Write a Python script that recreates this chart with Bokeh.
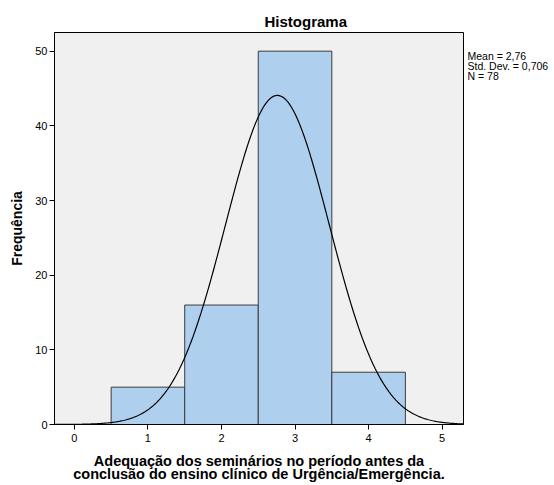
import numpy as np
from bokeh.plotting import figure
from bokeh.models import Range1d, FixedTicker, ColumnDataSource
from bokeh.layouts import row
from bokeh.core.properties import value
from bokeh.embed import file_html
from bokeh.resources import INLINE

# Data
bin_centers = [1, 2, 3, 4]
counts = [5, 16, 50, 7]
mean_val = 2.76
std_val = 0.706
n_val = 78
x_ticks = [0, 1, 2, 3, 4, 5]
y_ticks = [0, 10, 20, 30, 40, 50]
title_text = "Histograma"
x_label_text = ("Adequação dos seminários no período antes da\n"
                "conclusão do ensino clínico de Urgência/Emergência.")
y_label_text = "Frequência"
stats_lines = ["Mean = 2,76", "Std. Dev. = 0,706", "N = 78"]

FONT = "Liberation Sans"
H = 485
TOP = 32
BOTTOM = 60

p = figure(width=464, height=H, output_backend="svg", toolbar_location=None,
           x_range=Range1d(-0.27, 5.29), y_range=Range1d(0, 52.5),
           min_border_left=54, min_border_right=1, min_border_top=TOP, min_border_bottom=BOTTOM)
p.background_fill_color = "#F0F0F0"
p.border_fill_color = "white"
p.outline_line_color = "black"
p.outline_line_width = 1
p.xgrid.visible = False
p.ygrid.visible = False

src = ColumnDataSource(dict(left=[c - 0.5 for c in bin_centers],
                            right=[c + 0.5 for c in bin_centers],
                            top=counts, bottom=[0] * len(counts)))
p.quad(left="left", right="right", top="top", bottom="bottom", source=src,
       fill_color="#AECFEE", line_color="#3c3c3c", line_width=1)

xs = np.linspace(-0.27, 5.29, 400)
ys = n_val * 1.0 / (std_val * np.sqrt(2 * np.pi)) * np.exp(-0.5 * ((xs - mean_val) / std_val) ** 2)
p.line(xs, ys, line_color="black", line_width=1.2)

for ax in (p.xaxis[0], p.yaxis[0]):
    ax.major_tick_in = 0
    ax.major_tick_out = 5
    ax.minor_tick_in = 0
    ax.minor_tick_out = 0
    ax.axis_line_color = "black"
    ax.major_tick_line_color = "black"
    ax.major_label_text_font = FONT
    ax.major_label_text_font_size = "11px"
    ax.major_label_text_color = "black"
    ax.axis_label_text_font = FONT
    ax.axis_label_text_font_style = "bold"
    ax.axis_label_text_color = "black"
p.xaxis.ticker = FixedTicker(ticks=x_ticks)
p.yaxis.ticker = FixedTicker(ticks=y_ticks)
p.xaxis.major_label_standoff = 4
p.yaxis.major_label_standoff = 2
p.xaxis.axis_label = x_label_text
p.xaxis.axis_label_text_font_size = "14.5px"
p.xaxis.axis_label_standoff = 8
p.xaxis.axis_label_text_line_height = 0.86
p.yaxis.axis_label = y_label_text
p.yaxis.axis_label_text_font_size = "14px"
p.yaxis.axis_label_standoff = 7

p.title.text = title_text
p.title.text_font = FONT
p.title.text_font_size = "15px"
p.title.text_font_style = "bold"
p.title.text_color = "black"
p.title.align = "left"
p.title.offset = 210
p.title.standoff = 5

# Side panel for statistics text (frame aligned with main plot frame)
p2 = figure(width=90, height=H, output_backend="svg", toolbar_location=None,
            x_range=Range1d(0, 90), y_range=Range1d(BOTTOM, H - TOP),
            min_border_left=0, min_border_right=0, min_border_top=TOP, min_border_bottom=BOTTOM)
p2.axis.visible = False
p2.grid.visible = False
p2.outline_line_color = None
p2.background_fill_color = "white"
p2.border_fill_color = "white"
stat_src = ColumnDataSource(dict(x=[3, 3, 3], y=[H - 56, H - 65.7, H - 75.4], t=stats_lines))
p2.text(x="x", y="y", text="t", source=stat_src, text_font=value(FONT),
        text_font_size="10.5px", text_color="black", text_baseline="alphabetic", text_align="left")

layout = row(p, p2, spacing=0)
open("out.html", "w").write(file_html(layout, INLINE))
